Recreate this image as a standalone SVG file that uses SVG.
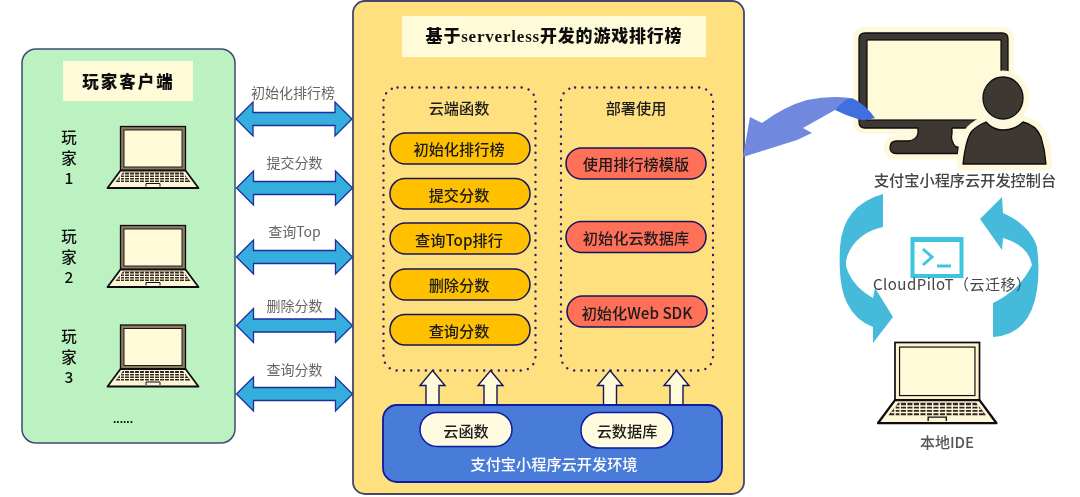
<svg xmlns="http://www.w3.org/2000/svg" width="1080" height="497" viewBox="0 0 1080 497">
<style>
text{font-family:"Noto Sans CJK SC","Liberation Sans",sans-serif;text-anchor:middle;dominant-baseline:central;transform:translateY(-1px)}
.lb{font-size:14px;fill:#666}
.pl{font-size:15.500px;font-weight:500;fill:#111}
.pill{stroke:#14145e;stroke-width:1.5}
.or{fill:#ffc000}.rd{fill:#ff6f59}
.dot{fill:none;stroke:#2c1e78;stroke-width:2.400;stroke-dasharray:.1 7.200;stroke-linecap:round}
.h{font-size:15.200px;font-weight:500;fill:#1a1a1a}
.dbl{fill:#36aede;stroke:#1b2e9c;stroke-width:1.300}
.up{fill:#fffbd8;stroke:#14145e;stroke-width:1.400}
.ttl{fill:#fffbd8}
.cyc{fill:#45badb}
.dk{fill:#3e3830;stroke:#0c0c0c;stroke-width:1.300;stroke-linejoin:round}
.halo{fill:#fff8dc;stroke:#fff8dc;stroke-width:13;stroke-linejoin:round}
.brown{color:#8c7a64}
.cream{color:#fff3cf}
</style>
<defs>
<filter id="soft" x="-2%" y="-2%" width="104%" height="104%"><feGaussianBlur stdDeviation="0.550"/></filter>
<g id="laptop">
<rect x="0" y="0" width="65" height="44" fill="currentColor" stroke="#0c0c0c" stroke-width="1.300"/>
<rect x="3.500" y="3.500" width="58" height="37" fill="#fffbd8" stroke="#0c0c0c" stroke-width=".9"/>
<path d="M0 44H65L78 61.500H-13Z" fill="#fff6d8" stroke="#0c0c0c" stroke-width="1.800" stroke-linejoin="round"/>
<path d="M2.500 46H62.500L70 55.500H-5Z" fill="#2e2820"/>
<path d="M1 48.500H64M-1 51H66M-3 53.500H68" stroke="#fff6d8" stroke-width="1.100" fill="none"/>
<path d="M4 46V56M9 46V56M14 46V56M19 46V56M24 46V56M29 46V56M34 46V56M39 46V56M44 46V56M49 46V56M54 46V56M59 46V56M0 47V56M64 47V56" stroke="#fff6d8" stroke-width="1.100" fill="none"/>
<path d="M25.500 60V57H39.500V60" fill="#fff6d8" stroke="#0c0c0c" stroke-width="1"/>
</g>
<path id="da" d="M0 0L17 -17V-6.500H99V-17L116 0L99 17V6.500H17V17Z" class="dbl"/>
<path id="ua" d="M0 0L12.500 15H6.500V35H-6.500V15H-12.500Z" class="up"/>
<path id="mon" d="M865 33H1002Q1008 33 1008 39V122Q1008 128 1002 128H952V133Q950 141 956 147H958V153.500H896Q890 153.500 890 147.500Q890 141.500 896 141H908Q917 140 918 133V128H865Q859 128 859 122V39Q859 33 865 33Z"/>
<path id="body" d="M963 164Q966 138 972 131Q978 125 986 122Q993 130 1003 130Q1015 130 1023 122Q1036 125 1041 137Q1045 150 1046 164Z"/>
</defs>
<rect width="1080" height="497" fill="#fff"/>
<g filter="url(#soft)">
<g id="client">
<rect x="22" y="49" width="213" height="394" rx="14" fill="#bcf2c2" stroke="#3d4a72" stroke-width="1.500"/>
<rect class="ttl" x="63" y="61" width="130" height="40"/>
<text x="128.500" y="82" style="font-size:16.500px;font-weight:900;fill:#111;letter-spacing:2px">玩家客户端</text>
<g id="player1" class="brown"><use href="#laptop" x="120.500" y="126.500"/><text class="pl" x="69" y="137">玩</text><text class="pl" x="69" y="158">家</text><text class="pl" x="69" y="178">1</text></g>
<g id="player2" class="brown"><use href="#laptop" x="120.500" y="225.500"/><text class="pl" x="69" y="236">玩</text><text class="pl" x="69" y="257">家</text><text class="pl" x="69" y="277">2</text></g>
<g id="player3" class="brown"><use href="#laptop" x="120.500" y="325"/><text class="pl" x="69" y="336">玩</text><text class="pl" x="69" y="357">家</text><text class="pl" x="69" y="377">3</text></g>
<text x="123" y="420" style="font-size:12px;font-weight:700;fill:#111;font-family:'Liberation Sans',sans-serif">......</text>
</g>
<g id="connectors">
<use href="#da" x="236" y="119"/><use href="#da" x="236.500" y="188"/><use href="#da" x="236.500" y="257"/><use href="#da" x="236.500" y="325.500"/><use href="#da" x="236.500" y="394"/>
<text class="lb" x="293" y="93">初始化排行榜</text><text class="lb" x="294.500" y="163">提交分数</text><text class="lb" x="294.500" y="232">查询Top</text><text class="lb" x="294.500" y="306">删除分数</text><text class="lb" x="294.500" y="370">查询分数</text>
</g>
<g id="serverless">
<rect x="353" y="1" width="391" height="493" rx="12" fill="#ffe07f" stroke="#44456e" stroke-width="1.800"/>
<rect class="ttl" x="402" y="16" width="304" height="41"/>
<text x="554" y="37" style="font-size:17px;font-weight:900;fill:#111;letter-spacing:.8px;font-family:'Liberation Serif','Noto Sans CJK SC',serif">基于serverless开发的游戏排行榜</text>
</g>
<g id="cloud-functions">
<rect class="dot" x="383.500" y="87.500" width="152" height="283" rx="14"/>
<text class="h" x="459" y="108">云端函数</text>
<rect class="pill or" x="390" y="133" width="140" height="31" rx="15.500"/><text class="h" x="459" y="149">初始化排行榜</text>
<rect class="pill or" x="390" y="178.500" width="140" height="30.500" rx="15"/><text class="h" x="459" y="194.500">提交分数</text>
<rect class="pill or" x="390" y="223" width="140" height="31" rx="15.500"/><text class="h" x="459" y="239.500">查询Top排行</text>
<rect class="pill or" x="390" y="269" width="140" height="31" rx="15.500"/><text class="h" x="459" y="285">删除分数</text>
<rect class="pill or" x="390" y="314.500" width="140" height="30.500" rx="15"/><text class="h" x="459" y="330.500">查询分数</text>
</g>
<g id="deploy">
<rect class="dot" x="561" y="87.500" width="152" height="283" rx="14"/>
<text class="h" x="636" y="108">部署使用</text>
<rect class="pill rd" x="566" y="148" width="140" height="31" rx="15.500"/><text class="h" x="636" y="164">使用排行榜模版</text>
<rect class="pill rd" x="566" y="221.500" width="140" height="31" rx="15.500"/><text class="h" x="636" y="238">初始化云数据库</text>
<rect class="pill rd" x="567" y="296" width="140" height="31" rx="15.500"/><text class="h" x="637" y="312.500">初始化Web SDK</text>
</g>
<g id="up-arrows">
<use href="#ua" x="432.500" y="370.500"/><use href="#ua" x="490.500" y="370.500"/><use href="#ua" x="610" y="370.500"/><use href="#ua" x="676.500" y="370.500"/>
</g>
<g id="alipay-env">
<rect x="383" y="405" width="339" height="77" rx="14" fill="#4a7bd8" stroke="#0a1aa0" stroke-width="1.800"/>
<rect x="420" y="412.500" width="92" height="34" rx="17" fill="#fffbe0" stroke="#0a1aa0" stroke-width="1.500"/><text class="h" x="466" y="431">云函数</text>
<rect x="581" y="412.500" width="92" height="35.500" rx="17.500" fill="#fffbe0" stroke="#0a1aa0" stroke-width="1.500"/><text class="h" x="627" y="431">云数据库</text>
<text x="554" y="464" style="font-size:15.200px;font-weight:500;fill:#fff">支付宝小程序云开发环境</text>
</g>
<g id="console">
<use href="#mon" class="halo" style="stroke-width:12"/>
<use href="#mon" class="dk"/>
<rect x="867" y="40" width="134" height="80" fill="#fffbd8" stroke="#0c0c0c" stroke-width="1.200"/>
<ellipse cx="1003" cy="98" rx="20" ry="21" class="halo"/>
<use href="#body" class="halo"/>
<ellipse cx="1003" cy="98" rx="20" ry="21" class="dk"/>
<use href="#body" class="dk"/>
<text x="965" y="180" style="font-size:15.200px;fill:#444;font-weight:500">支付宝小程序云开发控制台</text>
</g>
<g id="migration-arrows">
<path d="M743 157L750 117L762 123Q785 106 807 100Q830 95 850 98L835 110L803 128L812 133L797 140Z" fill="#6f89de"/>
<path d="M835 110Q845 98 852 98Q865 104 875 118Q862 122 855 118Q845 115 835 110Z" fill="#3f6fe0"/>
<path class="cyc" d="M883 194V227Q860 232 850 250Q843 262 848 272Q855 288 873 298L875 288L893 317L873 343L873 327Q855 320 847 303Q838 285 840 247Q843 205 883 194Z"/>
<path class="cyc" d="M993 337V303Q1020 290 1032 265Q1028 245 1003 238L1002 250L980 219L1002 197L1003 213Q1030 225 1037 247Q1040 270 1037 290Q1030 335 993 337Z"/>
</g>
<g id="cloudpilot">
<rect x="912.500" y="239" width="49" height="37" fill="#fff" stroke="#3dc5dd" stroke-width="4"/>
<rect x="911" y="237" width="52" height="5" fill="#3dc5dd"/>
<path d="M923 249L932 257L923 265" fill="none" stroke="#3dc5dd" stroke-width="3"/>
<path d="M937 266H951" stroke="#3dc5dd" stroke-width="3"/>
<text x="873" y="284" textLength="158" style="font-size:15px;fill:#444;text-anchor:start">CloudPiloT（云迁移）</text>
</g>
<g id="ide" class="cream">
<use href="#laptop" transform="translate(895 342.500) scale(1.300 1.310)"/>
<text x="947" y="442" style="font-size:15px;fill:#555;font-weight:500">本地IDE</text>
</g>
</g>
</svg>
